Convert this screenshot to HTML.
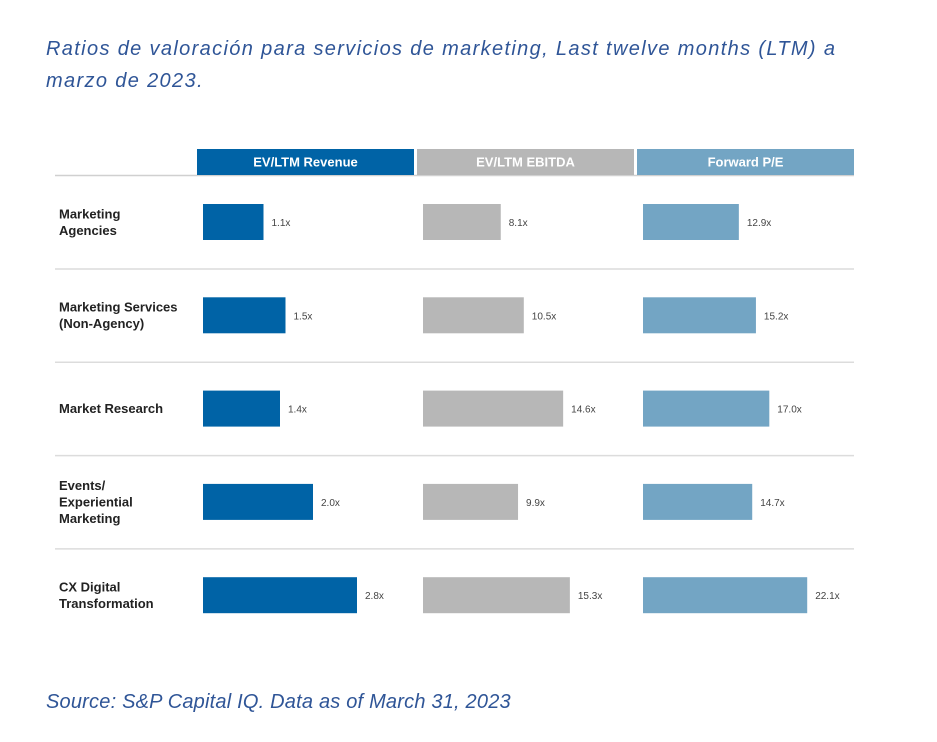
<!DOCTYPE html>
<html><head><meta charset="utf-8"><style>
body{margin:0;width:937px;height:742px;background:#fff;overflow:hidden;font-family:"Liberation Sans",sans-serif}
.t{position:absolute;left:46px;color:#2f5597;font-style:italic;font-size:20px;font-family:"Liberation Sans",sans-serif}
</style></head><body>
<div class="t" style="top:33px;line-height:32px;width:830px;letter-spacing:1.35px">Ratios de valoración para servicios de marketing, Last twelve months (LTM) a marzo de 2023.</div>
<div class="t" style="top:691px;letter-spacing:0.2px">Source: S&amp;P Capital IQ. Data as of March 31, 2023</div>
<svg id="c" width="937" height="742" style="position:absolute;left:0;top:0"></svg>
<script>
const categories=["Marketing|Agencies","Marketing Services|(Non-Agency)","Market Research","Events/|Experiential|Marketing","CX Digital|Transformation"];
const metrics=["EV/LTM Revenue","EV/LTM EBITDA","Forward P/E"];
const revenue=[1.1,1.5,1.4,2.0,2.8];
const ebitda=[8.1,10.5,14.6,9.9,15.3];
const forwardPE=[12.9,15.2,17.0,14.7,22.1];
const series=[revenue,ebitda,forwardPE];
const colors=["#0063a6","#b7b7b7","#73a5c4"];
const colX=[197,417,637],colW=217,barOff=6,scale=[55,9.6,7.43];
const rowY=i=>222+i*93.3;
const svg=document.getElementById('c');const NS="http://www.w3.org/2000/svg";
function el(t,a,txt){const e=document.createElementNS(NS,t);for(const k in a)e.setAttribute(k,a[k]);if(txt!=null)e.textContent=txt;svg.appendChild(e);return e;}
const hl=el('line',{x1:55,x2:854,y1:175.5,y2:175.5,stroke:'#d0d0d0','stroke-width':1.5});


metrics.forEach((m,j)=>{
 const r=el('rect',{x:colX[j],y:149,width:colW,height:26,fill:colors[j]});
 
 
 const tx=el('text',{x:colX[j]+colW/2,y:166.5,'text-anchor':'middle',fill:'#fff','font-size':13,'font-weight':'bold'},m);
 
 
});
categories.forEach((c,i)=>{
 const cy=rowY(i);
 if(i<4){const l=el('line',{x1:55,x2:854,y1:cy+47,y2:cy+47,stroke:'#dcdcdc','stroke-width':1.5});
  
  }
 const lines=c.split('|');
 const lt=el('text',{x:59,'font-size':13,'font-weight':'bold',fill:'#222'});
 
 
 lines.forEach((s,k)=>{const ts=document.createElementNS(NS,'tspan');ts.setAttribute('x',59);ts.setAttribute('y',cy+4.5+(k-(lines.length-1)/2)*16.5);ts.textContent=s;lt.appendChild(ts);});
 series.forEach((vals,j)=>{
  const x0=colX[j]+barOff,w=vals[i]*scale[j];
  const b=el('rect',{x:x0,y:cy-18,width:w,height:36,fill:colors[j]});
  
  
  const v=el('text',{x:x0+w+8,y:cy+4,'font-size':10,fill:'#444'},vals[i].toFixed(1)+'x');
  
  
 });
});
</script>
</body></html>
